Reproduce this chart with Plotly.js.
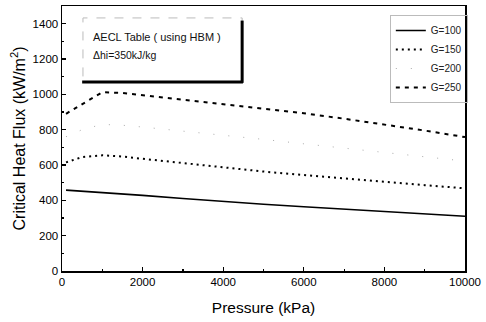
<!DOCTYPE html>
<html>
<head>
<meta charset="utf-8">
<script src="https://cdn.plot.ly/plotly-3.0.1.min.js"></script>
<style>html,body{margin:0;padding:0;background:#fff;}#chart{width:486px;height:322px;}</style>
</head>
<body>
<div id="chart"></div>
<script>
// Pressure (kPa)
const pressure = [100, 500, 1000, 1500, 2000, 3000, 4000, 5000, 6000, 7000, 8000, 9000, 10000];
// Critical heat flux (kW/m2) for each mass flux G
const g100 = [458, 452, 445, 437, 428, 410, 393, 378, 364, 350, 337, 323, 310];
const g150 = [615, 645, 655, 648, 635, 610, 585, 563, 543, 523, 505, 486, 468];
const g200 = [760, 800, 830, 825, 815, 793, 768, 745, 720, 695, 670, 645, 622];
const g250 = [890, 945, 1012, 1008, 995, 970, 945, 920, 893, 862, 830, 795, 758];
const seriesNames = ['G=100', 'G=150', 'G=200', 'G=250'];
const xTicks = [0, 2000, 4000, 6000, 8000, 10000];
const yTicks = [0, 200, 400, 600, 800, 1000, 1200, 1400];

const FONT = 'Arial, "Liberation Sans", Helvetica, sans-serif';

const traces = [
  {x: pressure, y: g100, name: seriesNames[0], mode: 'lines', line: {color: '#000', width: 1.6, dash: 'solid'}},
  {x: pressure, y: g150, name: seriesNames[1], mode: 'lines', line: {color: '#000', width: 2, dash: '2px,4px'}},
  {x: pressure, y: g200, name: seriesNames[2], mode: 'lines', line: {color: '#aaa', width: 1, dash: '1px,14px'}},
  {x: pressure, y: g250, name: seriesNames[3], mode: 'lines', line: {color: '#000', width: 2, dash: '4px,5px'}}
];

const axisCommon = {
  showgrid: false, zeroline: false,
  showline: true, linecolor: '#000', linewidth: 1.5, mirror: true,
  ticks: 'inside', ticklen: 4, tickcolor: '#000', tickwidth: 1.2,
  tickfont: {family: FONT, size: 11.5, color: '#000'}
};

const layout = {
  width: 486, height: 322,
  margin: {l: 62, r: 21, t: 6, b: 51},
  paper_bgcolor: '#fff', plot_bgcolor: '#fff',
  font: {family: FONT, color: '#000'},
  showlegend: true,
  legend: {
    x: 1.007, y: 0.966, xanchor: 'right', yanchor: 'top',
    bgcolor: 'rgba(0,0,0,0)', bordercolor: '#bbb', borderwidth: 1,
    font: {family: FONT, size: 10, color: '#222'}
  },
  xaxis: Object.assign({}, axisCommon, {
    range: [0, 10000], tickvals: xTicks, ticktext: xTicks.map(String),
    minor: {dtick: 1000, tick0: 0, ticks: 'inside', ticklen: 2, tickcolor: '#000'},
    title: {text: 'Pressure (kPa)', font: {family: FONT, size: 15.5, color: '#000'}, standoff: 15}
  }),
  yaxis: Object.assign({}, axisCommon, {
    range: [0, 1500], tickvals: yTicks, ticktext: yTicks.map(String),
    minor: {dtick: 100, tick0: 0, ticks: 'inside', ticklen: 2, tickcolor: '#000'},
    title: {text: 'Critical Heat Flux (kW/m<sup>2</sup>)', font: {family: FONT, size: 16, color: '#000'}, standoff: 3}
  }),
  shapes: [
    {type: 'rect', xref: 'paper', yref: 'paper', x0: 0.052, x1: 0.447, y0: 0.713, y1: 0.955,
     line: {color: '#bbb', width: 1, dash: 'dash'}, fillcolor: 'rgba(0,0,0,0)'},
    {type: 'line', xref: 'paper', yref: 'paper', x0: 0.447, x1: 0.447, y0: 0.71, y1: 0.945,
     line: {color: '#000', width: 3}},
    {type: 'line', xref: 'paper', yref: 'paper', x0: 0.05, x1: 0.449, y0: 0.713, y1: 0.713,
     line: {color: '#000', width: 3}}
  ],
  annotations: [
    {xref: 'paper', yref: 'paper', x: 0.072, y: 0.883, xanchor: 'left', yanchor: 'middle',
     text: 'AECL Table ( using HBM )', showarrow: false, font: {family: FONT, size: 11, color: '#111'}},
    {xref: 'paper', yref: 'paper', x: 0.072, y: 0.815, xanchor: 'left', yanchor: 'middle',
     text: 'Δhi=350kJ/kg', showarrow: false, font: {family: FONT, size: 10.5, color: '#111'}}
  ]
};

Plotly.newPlot('chart', traces, layout, {staticPlot: true, displayModeBar: false});
</script>
</body>
</html>
